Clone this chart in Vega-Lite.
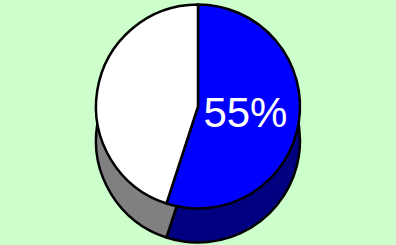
{
  "$schema": "https://vega.github.io/schema/vega-lite/v6.json",
  "width": 396,
  "height": 245,
  "autosize": {"type": "fit", "contains": "padding"},
  "background": "#ccffcc",
  "config": {"view": {"stroke": null}},
  "data": {"values": [
    {"slice": "A", "value": 55, "label": "55%"},
    {"slice": "B", "value": 45, "label": ""}
  ]},
  "encoding": {
    "theta": {"field": "value", "type": "quantitative", "stack": true},
    "order": {"field": "slice", "type": "nominal"}
  },
  "layer": [
    {
      "mark": {"type": "arc", "outerRadius": 102, "yOffset": 18, "stroke": "black", "strokeWidth": 2.5, "strokeJoin": "round"},
      "encoding": {"color": {"field": "slice", "type": "nominal", "scale": {"domain": ["A", "B"], "range": ["#000080", "#808080"]}, "legend": null}}
    },
    {
      "mark": {"type": "arc", "outerRadius": 102, "yOffset": -16, "stroke": "black", "strokeWidth": 2.5, "strokeJoin": "round"},
      "encoding": {"fill": {"field": "slice", "type": "nominal", "scale": {"domain": ["A", "B"], "range": ["#0000ff", "#ffffff"]}, "legend": null}}
    },
    {
      "mark": {"type": "text", "radius": 48, "yOffset": -16, "fontSize": 42, "fill": "white", "font": "Liberation Sans, Arial, sans-serif"},
      "encoding": {"text": {"field": "label", "type": "nominal"}}
    }
  ],
  "resolve": {"scale": {"color": "independent", "fill": "independent"}}
}
